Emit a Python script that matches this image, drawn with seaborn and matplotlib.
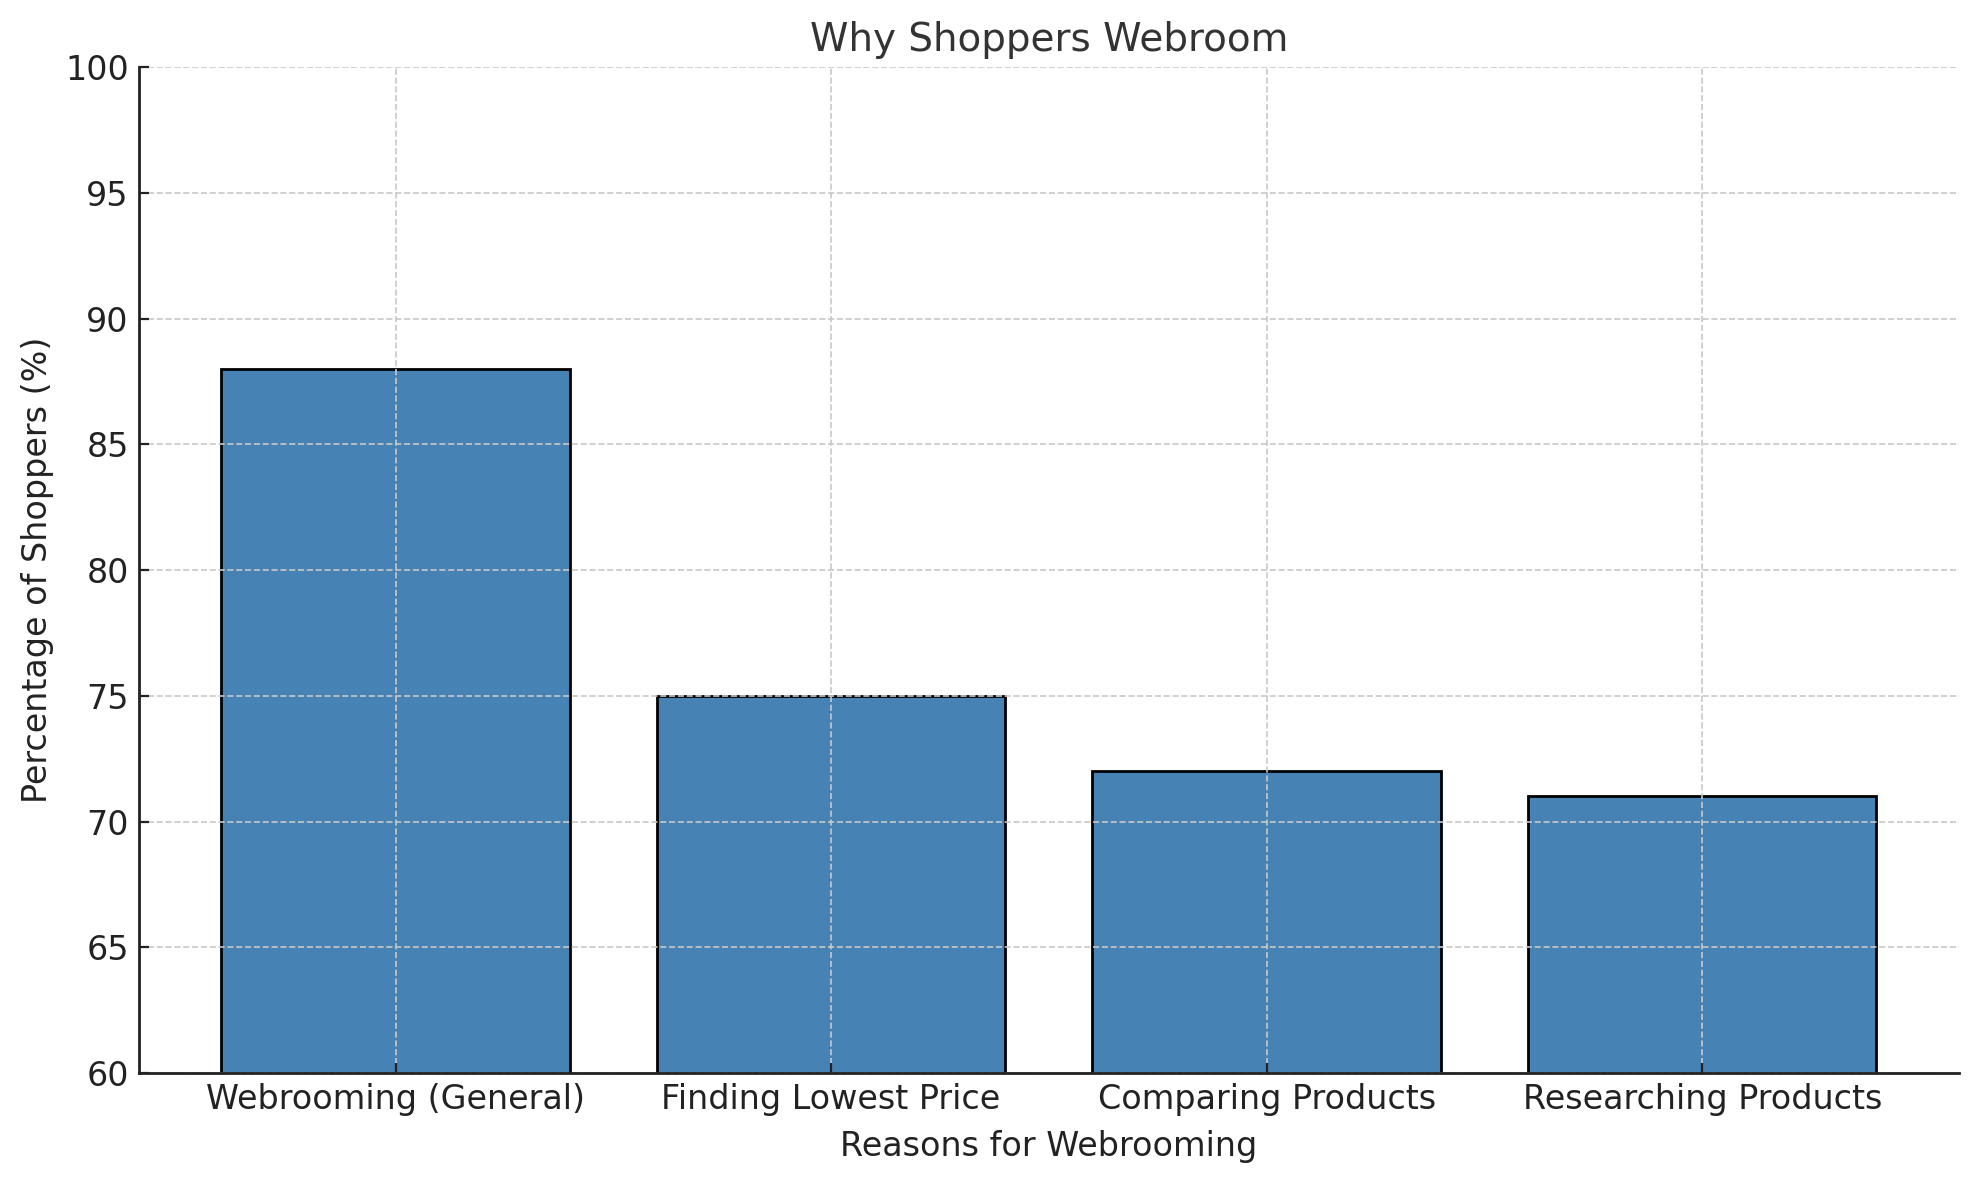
import matplotlib
matplotlib.use("Agg")
import matplotlib.pyplot as plt
import seaborn as sns
import pandas as pd

reasons = ["Webrooming (General)", "Finding Lowest Price", "Comparing Products", "Researching Products"]
percentages = [88, 75, 72, 71]
y_ticks = [60, 65, 70, 75, 80, 85, 90, 95, 100]

df = pd.DataFrame({"reason": reasons, "pct": percentages})

sns.set_style("ticks")
plt.rcParams["font.family"] = ["DejaVu Sans"]

fig, ax = plt.subplots(figsize=(1979 / 200, 1180 / 200), dpi=200)
fig.subplots_adjust(left=0.070, right=0.990, top=0.943, bottom=0.0907)

sns.barplot(data=df, x="reason", y="pct", color="#4682B4", saturation=1,
            edgecolor="black", linewidth=1.0, width=0.8, ax=ax)

ax.set_ylim(60, 100)
ax.set_xlim(-0.59, 3.59)
ax.set_yticks(y_ticks)
ax.grid(True, linestyle="--", color="#c8c8c8", linewidth=0.6)
ax.set_axisbelow(False)
ax.tick_params(direction="in", labelsize=12, colors="#222222", length=3.5, width=0.8)
for s in ["top", "right"]:
    ax.spines[s].set_visible(False)
for s in ["left", "bottom"]:
    ax.spines[s].set_color("#222222")
    ax.spines[s].set_linewidth(1.0)
    ax.spines[s].set_zorder(3)

ax.set_title("Why Shoppers Webroom", fontsize=14, color="#333333")
ax.set_xlabel("Reasons for Webrooming", fontsize=12, color="#222222", labelpad=5)
ax.set_ylabel("Percentage of Shoppers (%)", fontsize=12, color="#222222")

fig.savefig("out.png", dpi=200)
plt.close(fig)
